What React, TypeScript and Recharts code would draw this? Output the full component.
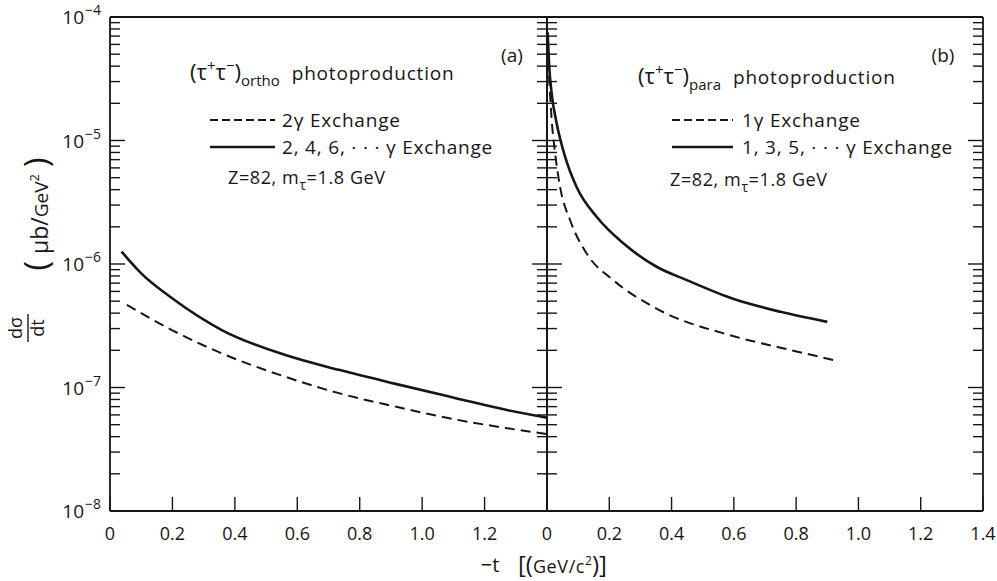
import React from "react";
import { LineChart, Line, XAxis, YAxis } from "recharts";

// Two-panel log plot: (a) ortho and (b) para tau-pair photoproduction,
// d(sigma)/dt versus -t.

const X_TICKS = [0, 0.2, 0.4, 0.6, 0.8, 1.0, 1.2, 1.4];
const DECADES = [-8, -7, -6, -5, -4];
const MINOR_STEPS = [2, 3, 4, 5, 6, 7, 8, 9];

// (a) ortho: 2,4,6,... gamma exchange (solid)
const ORTHO_ALL_T = [0.037, 0.1, 0.198, 0.358, 0.562, 0.733, 0.915, 1.108, 1.268, 1.4];
const ORTHO_ALL_V = [1.26e-6, 8.4e-7, 5.3e-7, 2.92e-7, 1.83e-7, 1.39e-7, 1.07e-7, 8.2e-8, 6.6e-8, 5.7e-8];
// (a) ortho: 2 gamma exchange (dashed)
const ORTHO_TWO_T = [0.054, 0.198, 0.358, 0.562, 0.733, 0.915, 1.108, 1.268, 1.4];
const ORTHO_TWO_V = [4.66e-7, 2.92e-7, 1.89e-7, 1.22e-7, 9.0e-8, 7.0e-8, 5.5e-8, 4.7e-8, 4.2e-8];

// (b) para: 1,3,5,... gamma exchange (solid)
const PARA_ALL_T = [0.002, 0.007, 0.015, 0.031, 0.058, 0.095, 0.16, 0.245, 0.352, 0.449, 0.6, 0.75, 0.9];
const PARA_ALL_V = [7.5e-5, 4.0e-5, 2.4e-5, 1.38e-5, 7.4e-6, 4.2e-6, 2.4e-6, 1.47e-6, 9.5e-7, 7.4e-7, 5.2e-7, 4.1e-7, 3.4e-7];
// (b) para: 1 gamma exchange (dashed)
const PARA_ONE_T = [0.004, 0.015, 0.026, 0.042, 0.074, 0.127, 0.213, 0.341, 0.6, 0.75, 0.92];
const PARA_ONE_V = [4.5e-5, 1.47e-5, 7.9e-6, 4.2e-6, 2.27e-6, 1.22e-6, 7.4e-7, 4.5e-7, 2.6e-7, 2.1e-7, 1.67e-7];

const pts = (t: number[], v: number[]) => t.map((x, i) => ({ t: x, v: v[i] }));

const Y_TICKS: number[] = [];
DECADES.forEach((d) => {
  Y_TICKS.push(Math.pow(10, d));
  if (d < -4) MINOR_STEPS.forEach((m) => Y_TICKS.push(m * Math.pow(10, d)));
});

const INK = "#161616";
const FONT = "'Open Sans', 'DejaVu Sans', sans-serif";
const FRAME_W = 1.8;

const isDecade = (v: number) => {
  const l = Math.log10(v);
  return Math.abs(l - Math.round(l)) < 1e-6;
};

function YTick(props: any) {
  const { x, y, payload, side, showLabel } = props;
  const v = payload.value as number;
  const major = isDecade(v);
  const len = major ? 15 : 10;
  const dir = side === "left" ? 1 : -1;
  const exp = Math.round(Math.log10(v));
  return (
    <g>
      <line x1={x} x2={x + dir * len} y1={y} y2={y} stroke={INK} strokeWidth={1.4} />
      {showLabel && major ? (
        <g fontFamily={FONT} fill={INK}>
          <text x={x - 26} y={y + 7} textAnchor="end" fontSize={19}>10</text>
          <text x={x - 25} y={y - 2} textAnchor="start" fontSize={14}>{"\u2212" + Math.abs(exp)}</text>
        </g>
      ) : null}
    </g>
  );
}

function XTick(props: any) {
  const { x, y, payload, side, hideLast } = props;
  const v = payload.value as number;
  const dir = side === "bottom" ? -1 : 1;
  const label = v === 0 ? "0" : v.toFixed(1);
  const showLabel = side === "bottom" && !(hideLast && v > 1.3);
  return (
    <g>
      <line x1={x} x2={x} y1={y} y2={y + dir * 14} stroke={INK} strokeWidth={1.4} />
      {showLabel ? (
        <text x={x} y={y + 29} textAnchor="middle" fontSize={18} fontFamily={FONT} fill={INK}>
          {label}
        </text>
      ) : null}
    </g>
  );
}

function Panel({
  width,
  margin,
  solid,
  dashed,
  leftLabels,
  hideLast,
}: {
  width: number;
  margin: { top: number; right: number; bottom: number; left: number };
  solid: { t: number; v: number }[];
  dashed: { t: number; v: number }[];
  leftLabels: boolean;
  hideLast: boolean;
}) {
  const axisLine = { stroke: INK, strokeWidth: FRAME_W };
  const common = {
    type: "number" as const,
    dataKey: "t",
    domain: [0, 1.4],
    ticks: X_TICKS,
    interval: 0,
    height: 1,
    tickSize: 0,
    tickMargin: 0,
    tickLine: false,
    axisLine,
  };
  const yCommon = {
    scale: "log" as const,
    domain: [1e-8, 1e-4],
    allowDataOverflow: true,
    ticks: Y_TICKS,
    interval: 0,
    width: 1,
    tickSize: 0,
    tickMargin: 0,
    tickLine: false,
    axisLine,
  };
  return (
    <LineChart width={width} height={581} margin={margin} style={{ overflow: "visible" }}>
      <XAxis
        xAxisId="b"
        {...common}
        orientation="bottom"
        tick={(p: any) => <XTick {...p} side="bottom" hideLast={hideLast} />}
      />
      <XAxis
        xAxisId="tp"
        {...common}
        orientation="top"
        tick={(p: any) => <XTick {...p} side="top" />}
      />
      <YAxis
        yAxisId="l"
        {...yCommon}
        orientation="left"
        tick={(p: any) => <YTick {...p} side="left" showLabel={leftLabels} />}
      />
      <YAxis
        yAxisId="r"
        {...yCommon}
        orientation="right"
        tick={(p: any) => <YTick {...p} side="right" showLabel={false} />}
      />
      <Line
        xAxisId="b"
        yAxisId="l"
        data={dashed}
        dataKey="v"
        type="monotone"
        stroke={INK}
        strokeWidth={2}
        strokeDasharray="10 6"
        dot={false}
        isAnimationActive={false}
      />
      <Line
        xAxisId="b"
        yAxisId="l"
        data={solid}
        dataKey="v"
        type="monotone"
        stroke={INK}
        strokeWidth={2.6}
        dot={false}
        isAnimationActive={false}
      />
    </LineChart>
  );
}

function Annotations() {
  const t = { fontFamily: FONT, fill: INK } as const;
  const title = (x: number, y: number, sub: string) => (
    <text x={x} y={y} fontSize={22} {...t}>
      <tspan>(τ</tspan>
      <tspan fontSize={15} dy={-9}>+</tspan>
      <tspan dy={9}>τ</tspan>
      <tspan fontSize={15} dy={-9}>−</tspan>
      <tspan dy={9}>)</tspan>
      <tspan fontSize={15} dy={6}>{sub}</tspan>
      <tspan dy={-6} dx={12} fontSize={19} letterSpacing={0.8}>photoproduction</tspan>
    </text>
  );
  const zline = (x: number, y: number) => (
    <text x={x} y={y} fontSize={18} letterSpacing={0.6} {...t}>
      <tspan>Z=82,  m</tspan>
      <tspan fontSize={14} dy={6}>τ</tspan>
      <tspan dy={-6}>=1.8 GeV</tspan>
    </text>
  );
  return (
    <svg
      width={997}
      height={581}
      style={{ position: "absolute", left: 0, top: 0, pointerEvents: "none" }}
    >
      {/* panel (a) */}
      <text x={512} y={62} textAnchor="middle" fontSize={19} {...t}>(a)</text>
      {title(190, 80, "ortho")}
      <line x1={210} x2={275} y1={120} y2={120} stroke={INK} strokeWidth={1.8} strokeDasharray="8 4" />
      <text x={282} y={127} fontSize={19} letterSpacing={0.8} {...t}>2γ Exchange</text>
      <line x1={210} x2={275} y1={147} y2={147} stroke={INK} strokeWidth={2.6} />
      <text x={282} y={154} fontSize={19} letterSpacing={0.8} {...t}>2, 4, 6, · · · γ Exchange</text>
      {zline(228, 184)}

      {/* panel (b) */}
      <text x={943} y={62} textAnchor="middle" fontSize={19} {...t}>(b)</text>
      {title(638, 84, "para")}
      <line x1={672} x2={733} y1={120} y2={120} stroke={INK} strokeWidth={1.8} strokeDasharray="8 4" />
      <text x={742} y={127} fontSize={19} letterSpacing={0.8} {...t}>1γ Exchange</text>
      <line x1={672} x2={733} y1={147} y2={147} stroke={INK} strokeWidth={2.6} />
      <text x={742} y={154} fontSize={19} letterSpacing={0.8} {...t}>1, 3, 5, · · · γ Exchange</text>
      {zline(670, 186)}

      {/* y-axis title */}
      <g transform="translate(28,328) rotate(-90)" {...t}>
        <text x={0} y={-6} textAnchor="middle" fontSize={18}>dσ</text>
        <line x1={-14} x2={14} y1={0} y2={0} stroke={INK} strokeWidth={1.4} />
        <text x={0} y={16} textAnchor="middle" fontSize={18}>dt</text>
      </g>
      <g transform="translate(40,214) rotate(-90)" {...t}>
        <text x={0} y={8} textAnchor="middle" fontSize={23}>
          <tspan fontSize={32}>(</tspan>
          <tspan dx={7}>μb/</tspan>
          <tspan fontSize={19}>GeV</tspan>
          <tspan fontSize={13} dy={-9}>2</tspan>
          <tspan fontSize={32} dy={9} dx={7}>)</tspan>
        </text>
      </g>

      {/* x-axis title */}
      <text x={490} y={572} textAnchor="middle" fontSize={20} {...t}>−t</text>
      <text x={518} y={573} fontSize={24} {...t}>
        <tspan>[(</tspan>
        <tspan fontSize={18} letterSpacing={0.6}>GeV/c</tspan>
        <tspan fontSize={12} dy={-8}>2</tspan>
        <tspan dy={8}>)]</tspan>
      </text>
    </svg>
  );
}

export default function App() {
  return (
    <div
      style={{
        position: "absolute",
        left: 0,
        top: 0,
        width: 997,
        height: 581,
        background: "#fff",
        overflow: "hidden",
      }}
    >
      <div style={{ position: "absolute", left: 0, top: 0 }}>
        <Panel
          width={560}
          margin={{ top: 16, right: 12, bottom: 69, left: 109 }}
          solid={pts(ORTHO_ALL_T, ORTHO_ALL_V)}
          dashed={pts(ORTHO_TWO_T, ORTHO_TWO_V)}
          leftLabels
          hideLast
        />
      </div>
      <div style={{ position: "absolute", left: 540, top: 0 }}>
        <Panel
          width={457}
          margin={{ top: 16, right: 13, bottom: 69, left: 6 }}
          solid={pts(PARA_ALL_T, PARA_ALL_V)}
          dashed={pts(PARA_ONE_T, PARA_ONE_V)}
          leftLabels={false}
          hideLast={false}
        />
      </div>
      <Annotations />
    </div>
  );
}
